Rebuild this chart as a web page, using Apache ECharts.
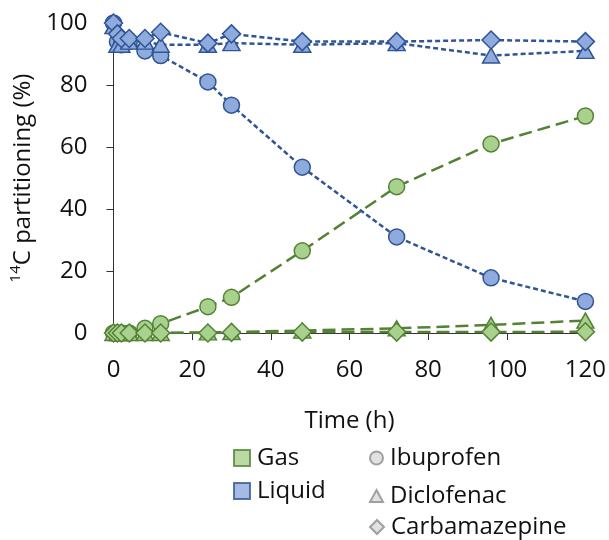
<!DOCTYPE html>
<html>
<head>
<meta charset="utf-8">
<script src="https://cdn.jsdelivr.net/npm/echarts@6/dist/echarts.min.js"></script>
<style>
html,body{margin:0;padding:0;background:#fff;}
#chart{width:609px;height:540px;}
</style>
</head>
<body>
<div id="chart"></div>
<script>
// ---- data ----
var time = [0, 1, 2, 4, 8, 12, 24, 30, 48, 72, 96, 120];
var liquidIbuprofen    = [100, 94, 93, 94, 91, 89.5, 81, 73.5, 53.5, 31, 17.8, 10.2];
var liquidDiclofenac   = [99, 93, 93, 94, 94, 93, 93, 93.5, 93, 93.5, 89.5, 91];
var liquidCarbamazepine= [100, 96.5, 95, 95, 95, 97, 93.5, 96.5, 94, 94, 94.5, 94];
var gasIbuprofen       = [0, 0, 0, 0, 1.5, 3, 8.5, 11.5, 26.5, 47.2, 61, 70];
var gasDiclofenac      = [0, 0, 0, 0, 0, 0, 0.2, 0.3, 0.8, 1.5, 2.6, 4];
var gasCarbamazepine   = [0, 0, 0, 0, 0, 0, 0, 0.2, 0.3, 0.3, 0.3, 0.4];
var xTicks = [0, 20, 40, 60, 80, 100, 120];
var yTicks = [0, 20, 40, 60, 80, 100];
var phaseNames = ['Gas', 'Liquid'];
var compoundNames = ['Ibuprofen', 'Diclofenac', 'Carbamazepine'];

var FONT = 'Open Sans';
var blueFill = '#8FAADC', blueLine = '#2F5597';
var greenFill = '#A9D18E', greenLine = '#548235';

function pairs(vals){ return time.map(function(t,i){ return [t, vals[i]]; }); }

function mkSeries(name, vals, phase, shape){
  var isGas = phase === 'Gas';
  var sym = {Ibuprofen:'circle', Diclofenac:'triangle', Carbamazepine:'diamond'}[shape];
  var size = {Ibuprofen:16, Diclofenac:[17,15], Carbamazepine:[18,18]}[shape];
  return {
    name: name, type: 'line', data: pairs(vals),
    symbol: sym, symbolSize: size, showAllSymbol: true,
    lineStyle: {color: isGas ? greenLine : blueLine, width: 2.5, type: isGas ? [13,6] : [5,3]},
    itemStyle: {color: isGas ? greenFill : blueFill, borderColor: isGas ? greenLine : blueLine, borderWidth: 1.5, opacity: 1},
    emphasis: {disabled: true}, animation: false
  };
}

var series = [
  mkSeries('Gas Ibuprofen', gasIbuprofen, 'Gas', 'Ibuprofen'),
  mkSeries('Gas Diclofenac', gasDiclofenac, 'Gas', 'Diclofenac'),
  mkSeries('Gas Carbamazepine', gasCarbamazepine, 'Gas', 'Carbamazepine'),
  mkSeries('Liquid Ibuprofen', liquidIbuprofen, 'Liquid', 'Ibuprofen'),
  mkSeries('Liquid Diclofenac', liquidDiclofenac, 'Liquid', 'Diclofenac'),
  mkSeries('Liquid Carbamazepine', liquidCarbamazepine, 'Liquid', 'Carbamazepine')
];
// legend-only series
var legendStyles = {
  Gas: {color: greenFill, borderColor: greenLine, borderWidth: 1.5},
  Liquid: {color: blueFill, borderColor: blueLine, borderWidth: 1.5},
  Ibuprofen: {color: '#D9D9D9', borderColor: '#8C8C8C', borderWidth: 1.2},
  Diclofenac: {color: '#D9D9D9', borderColor: '#8C8C8C', borderWidth: 1.2},
  Carbamazepine: {color: '#D9D9D9', borderColor: '#8C8C8C', borderWidth: 1.2}
};
phaseNames.concat(compoundNames).forEach(function(n){
  series.push({name: n, type: 'scatter', data: [], itemStyle: legendStyles[n]});
});

function leg(name, icon, left, top, w, h){
  return {
    data: [{name: name, icon: icon}], left: left, top: top, itemWidth: w, itemHeight: h,
    itemGap: 0, selectedMode: false, padding: 0,
    textStyle: {fontFamily: FONT, fontSize: 24, color: '#111', padding: [0,0,0,2]}
  };
}

var option = {
  animation: false,
  grid: {left: 113.5, right: 22, top: 23, bottom: 207, containLabel: false},
  xAxis: {
    type: 'value', min: 0, max: 120, interval: 20,
    name: 'Time (h)', nameLocation: 'middle', nameGap: 76,
    nameTextStyle: {fontFamily: FONT, fontSize: 24, color: '#111'},
    axisLine: {show: true, lineStyle: {color: '#333', width: 1}},
    axisTick: {show: true, length: 7, lineStyle: {color: '#333'}},
    axisLabel: {fontFamily: FONT, fontSize: 24, color: '#111', margin: 25,
      formatter: function(v){ return xTicks.indexOf(v) >= 0 ? String(v) : ''; }},
    splitLine: {show: false}
  },
  yAxis: {
    type: 'value', min: 0, max: 100, interval: 20,
    name: '{sup|14}{n|C partitioning (%)}', nameLocation: 'middle', nameGap: 72, nameRotate: 90,
    nameTextStyle: {fontFamily: FONT, color: '#111',
      rich: {
        sup: {fontFamily: FONT, fontSize: 15, color: '#111', verticalAlign: 'top', lineHeight: 30},
        n: {fontFamily: FONT, fontSize: 24, color: '#111', lineHeight: 30}
      }},
    axisLine: {show: true, lineStyle: {color: '#333', width: 1}},
    axisTick: {show: true, length: 7, lineStyle: {color: '#333'}},
    axisLabel: {fontFamily: FONT, fontSize: 24, color: '#111', margin: 26,
      formatter: function(v){ return yTicks.indexOf(v) >= 0 ? String(v) : ''; }},
    splitLine: {show: false}
  },
  legend: [
    leg('Gas', 'rect', 233, 446, 16, 16),
    leg('Liquid', 'rect', 233, 479, 16, 16),
    leg('Ibuprofen', 'circle', 369, 446, 13, 13),
    leg('Diclofenac', 'triangle', 369, 484, 13, 12),
    leg('Carbamazepine', 'diamond', 369, 515, 14, 14)
  ],
  series: series
};

var chart = echarts.init(document.getElementById('chart'), null, {renderer: 'canvas'});
chart.setOption(option);
</script>
</body>
</html>
